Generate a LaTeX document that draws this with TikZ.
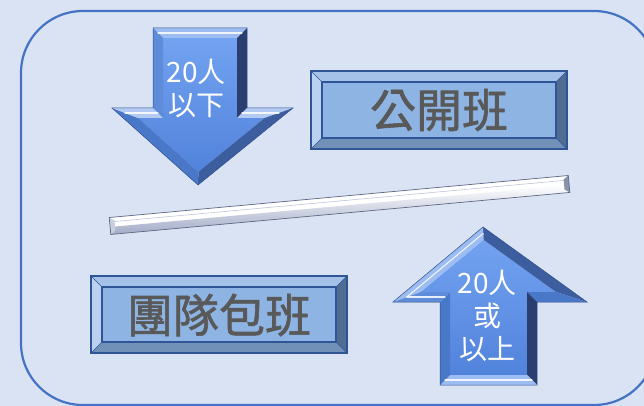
\documentclass[tikz,border=0pt]{standalone}
\usepackage{fontspec}
\newfontfamily\cjk{Noto Sans CJK TC}
\newfontfamily\cjkb[FakeBold=1.3]{Noto Sans CJK TC}
\definecolor{bg}{HTML}{DAE3F3}
\definecolor{frame}{HTML}{4472C4}
\definecolor{boxface}{HTML}{8DB4E2}
\definecolor{boxtop}{HTML}{A4C2E8}
\definecolor{boxleft}{HTML}{BAD2EF}
\definecolor{boxbot}{HTML}{7191B9}
\definecolor{boxright}{HTML}{4F6C93}
\definecolor{boxline}{HTML}{2F5597}
\definecolor{boxtxt}{HTML}{595959}
\definecolor{aface1}{HTML}{72A2F0}
\definecolor{aface2}{HTML}{5283DC}
\definecolor{alight}{HTML}{9DBDF2}
\definecolor{alight2}{HTML}{B3CBF3}
\definecolor{amid}{HTML}{5E8CD8}
\definecolor{amid2}{HTML}{4A78C8}
\definecolor{adark}{HTML}{2A3F70}
\definecolor{adark2}{HTML}{3D5E9E}
\definecolor{aedge}{HTML}{2F4F8F}
\definecolor{barlow}{HTML}{A3ACC8}
\definecolor{barline}{HTML}{BFC6DA}
\definecolor{baredge}{HTML}{5D6682}
\definecolor{barcapr}{HTML}{8A93AE}
\definecolor{barcapl}{HTML}{C9CFE0}
\tikzset{
  arrtext/.style={align=center, text=white, inner sep=0pt, font=\cjk\fontsize{28}{33}\selectfont},
  boxtext/.style={text=boxtxt, inner sep=0pt, font=\cjkb\fontsize{46}{50}\selectfont},
  aoutline/.style={draw=aedge, line width=0.5pt},
  hl/.style={draw=white, line width=1.1pt, line cap=round, opacity=0.85},
  bline/.style={draw=boxline, line width=1.6pt},
  bline2/.style={draw=boxline, line width=0.6pt}
}
\begin{document}
\begin{tikzpicture}[x=1pt,y=-1pt]
\useasboundingbox (0,0) rectangle (644,406);
\fill[bg] (0,0) rectangle (644,406);
\begin{scope}
\clip (0,0) rectangle (644,406);
\draw[frame, line width=2.2pt, rounded corners=62pt] (21,11) rectangle (656,405);
\end{scope}

% ---------- down arrow ----------
\shade[top color=aface1, bottom color=aface2] (163,38)--(237,38)--(237,118)--(264.7,118)--(198.4,171.8)--(138.2,118)--(163,118)--cycle;
\fill[alight] (153,28)--(247,28)--(237,38)--(163,38)--cycle;
\fill[adark] (247,28)--(247,108)--(237,118)--(237,38)--cycle;
\fill[alight2] (247,108)--(293,108)--(264.7,118)--(237,118)--cycle;
\fill[adark2] (293,108)--(198,185)--(198.4,171.8)--(264.7,118)--cycle;
\fill[amid2] (198,185)--(112,108)--(138.2,118)--(198.4,171.8)--cycle;
\fill[alight2] (112,108)--(153,108)--(163,118)--(138.2,118)--cycle;
\fill[amid] (153,108)--(153,28)--(163,38)--(163,118)--cycle;
\draw[aoutline] (153,28)--(247,28)--(247,108)--(293,108)--(198,185)--(112,108)--(153,108)--cycle;
\draw[hl] (158,33)--(242,33);
\draw[hl] (125,113)--(158,113);
\draw[hl] (242,113)--(279,113);
\node[arrtext] (dtext) at (196,88) {20人\\以下};

% ---------- up arrow ----------
\shade[top color=aface1, bottom color=aface2] (483.5,239.7)--(556,292)--(527,292)--(527,375)--(450,375)--(450,292)--(420.6,292)--cycle;
\fill[adark2] (483,227)--(587,302)--(556,292)--(483.5,239.7)--cycle;
\fill[amid2] (587,302)--(537,302)--(527,292)--(556,292)--cycle;
\fill[adark] (537,302)--(537,385)--(527,375)--(527,292)--cycle;
\fill[alight] (537,385)--(440,385)--(450,375)--(527,375)--cycle;
\fill[amid2] (440,385)--(440,302)--(450,292)--(450,375)--cycle;
\fill[amid] (440,302)--(393,302)--(420.6,292)--(450,292)--cycle;
\fill[alight] (393,302)--(483,227)--(483.5,239.7)--(420.6,292)--cycle;
\draw[aoutline] (483,227)--(587,302)--(537,302)--(537,385)--(440,385)--(440,302)--(393,302)--cycle;
\draw[hl] (406.8,297)--(483.2,233.4);
\draw[hl] (406.8,297)--(445,297);
\draw[hl] (445,380)--(532,380);
\node[arrtext] (utext) at (487,316) {20人\\或\\以上};

% ---------- bar ----------
\begin{scope}[shift={(110,226)}, rotate=5.23]
\fill[white] (0,-8.5) rectangle (461,8.5);
\shade[top color=white, bottom color=barlow] (0,1) rectangle (461,8.5);
\draw[barline, line width=0.6pt] (4,-4) -- (457,-4);
\fill[barcapr] (461,-8.5)--(461,8.5)--(456,5)--(456,-5)--cycle;
\fill[barcapl] (0,-8.5)--(0,8.5)--(5,5)--(5,-5)--cycle;
\draw[baredge, line width=0.7pt] (0,-8.5) rectangle (461,8.5);
\end{scope}

% ---------- box 公開班 ----------
\fill[boxface] (322,82) rectangle (556,138);
\fill[boxtop] (311,71)--(567,71)--(556,82)--(322,82)--cycle;
\fill[boxleft] (311,71)--(322,82)--(322,138)--(311,149)--cycle;
\fill[boxbot] (311,149)--(567,149)--(556,138)--(322,138)--cycle;
\fill[boxright] (567,71)--(567,149)--(556,138)--(556,82)--cycle;
\draw[bline2] (311,71)--(322,82) (567,71)--(556,82) (311,149)--(322,138) (567,149)--(556,138);
\draw[bline] (322,82) rectangle (556,138);
\draw[bline] (311,71) rectangle (567,149);
\node[boxtext] (pub) at (439,110) {公開班};

% ---------- box 團隊包班 ----------
\fill[boxface] (102,287) rectangle (336,342);
\fill[boxtop] (91,276)--(347,276)--(336,287)--(102,287)--cycle;
\fill[boxleft] (91,276)--(102,287)--(102,342)--(91,353)--cycle;
\fill[boxbot] (91,353)--(347,353)--(336,342)--(102,342)--cycle;
\fill[boxright] (347,276)--(347,353)--(336,342)--(336,287)--cycle;
\draw[bline2] (91,276)--(102,287) (347,276)--(336,287) (91,353)--(102,342) (347,353)--(336,342);
\draw[bline] (102,287) rectangle (336,342);
\draw[bline] (91,276) rectangle (347,353);
\node[boxtext] (team) at (219,315) {團隊包班};
\end{tikzpicture}
\end{document}
